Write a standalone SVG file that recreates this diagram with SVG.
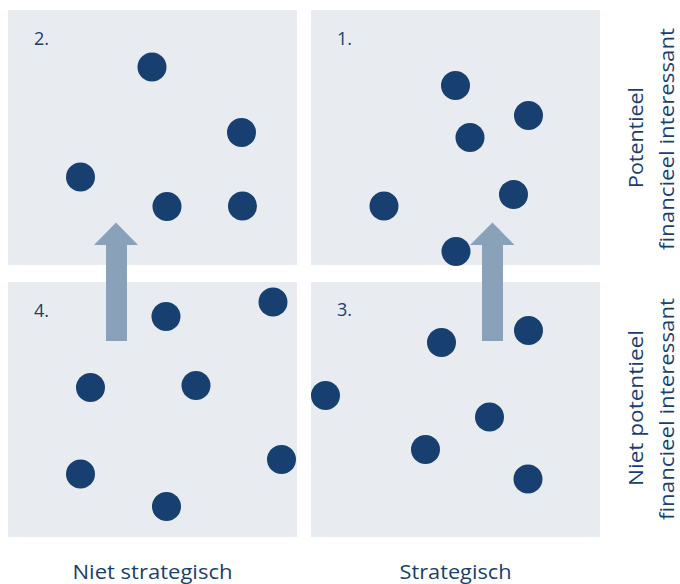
<svg xmlns="http://www.w3.org/2000/svg" width="680" height="584" viewBox="0 0 680 584">
<style>
.q{fill:#e8ebf0}
.d{fill:#173f70}
.t{font-family:"Open Sans","Noto Sans","Liberation Sans",sans-serif;fill:#173f70}
.n{font-size:18px}
.ax{font-size:20px}
.ar{fill:#8aa1ba}
</style>
<rect width="680" height="584" fill="#ffffff"/>
<g id="q2">
<rect class="q" x="8" y="10" width="289" height="255"/>
<text class="t n" x="34" y="45">2.</text>
<circle class="d" cx="152" cy="67" r="14.5"/>
<circle class="d" cx="241.5" cy="132.5" r="14.5"/>
<circle class="d" cx="80.5" cy="177" r="14.5"/>
<circle class="d" cx="167" cy="206.5" r="14.5"/>
<circle class="d" cx="242.5" cy="206" r="14.5"/>
</g>
<g id="q1">
<rect class="q" x="311" y="10" width="289" height="255"/>
<text class="t n" x="337" y="45">1.</text>
<circle class="d" cx="455.5" cy="85.5" r="14.5"/>
<circle class="d" cx="528.5" cy="115.5" r="14.5"/>
<circle class="d" cx="470" cy="137.5" r="14.5"/>
<circle class="d" cx="513.5" cy="194.5" r="14.5"/>
<circle class="d" cx="384" cy="206" r="14.5"/>
</g>
<g id="q4">
<rect class="q" x="8" y="282" width="289" height="255"/>
<text class="t n" x="34" y="317">4.</text>
<circle class="d" cx="273" cy="302" r="14.5"/>
<circle class="d" cx="166" cy="316.5" r="14.5"/>
<circle class="d" cx="90.5" cy="387.5" r="14.5"/>
<circle class="d" cx="196" cy="385.5" r="14.5"/>
<circle class="d" cx="281.5" cy="459.5" r="14.5"/>
<circle class="d" cx="80.5" cy="474" r="14.5"/>
<circle class="d" cx="166.5" cy="506.5" r="14.5"/>
</g>
<g id="q3">
<rect class="q" x="311" y="282" width="289" height="255"/>
<text class="t n" x="337" y="316">3.</text>
<circle class="d" cx="528.5" cy="330.5" r="14.5"/>
<circle class="d" cx="441.5" cy="342.5" r="14.5"/>
<circle class="d" cx="489.5" cy="417" r="14.5"/>
<circle class="d" cx="425.5" cy="449.5" r="14.5"/>
<circle class="d" cx="528" cy="479" r="14.5"/>
</g>
<g id="connectors">
<polygon class="ar" points="116,222.5 138,245 127,245 127,341 106,341 106,245 94,245"/>
<polygon class="ar" points="492.5,222.5 514.5,245 503,245 503,341 482,341 482,245 470,245"/>
</g>
<g id="q2dot"><circle class="d" cx="456" cy="251.5" r="14.5"/></g>
<g id="q3dot"><circle class="d" cx="325.5" cy="395.5" r="14.5"/></g>
<g id="labels">
<text class="t ax" x="152.5" y="579" text-anchor="middle" textLength="160" lengthAdjust="spacingAndGlyphs">Niet strategisch</text>
<text class="t ax" x="455.5" y="579" text-anchor="middle" textLength="112" lengthAdjust="spacingAndGlyphs">Strategisch</text>
<text class="t ax" transform="translate(643,137.5) rotate(-90)" text-anchor="middle" textLength="101" lengthAdjust="spacingAndGlyphs">Potentieel</text>
<text class="t ax" transform="translate(674,139) rotate(-90)" text-anchor="middle" textLength="222" lengthAdjust="spacingAndGlyphs">financieel interessant</text>
<text class="t ax" transform="translate(643,408) rotate(-90)" text-anchor="middle" textLength="156" lengthAdjust="spacingAndGlyphs">Niet potentieel</text>
<text class="t ax" transform="translate(674,409) rotate(-90)" text-anchor="middle" textLength="222" lengthAdjust="spacingAndGlyphs">financieel interessant</text>
</g>
</svg>
